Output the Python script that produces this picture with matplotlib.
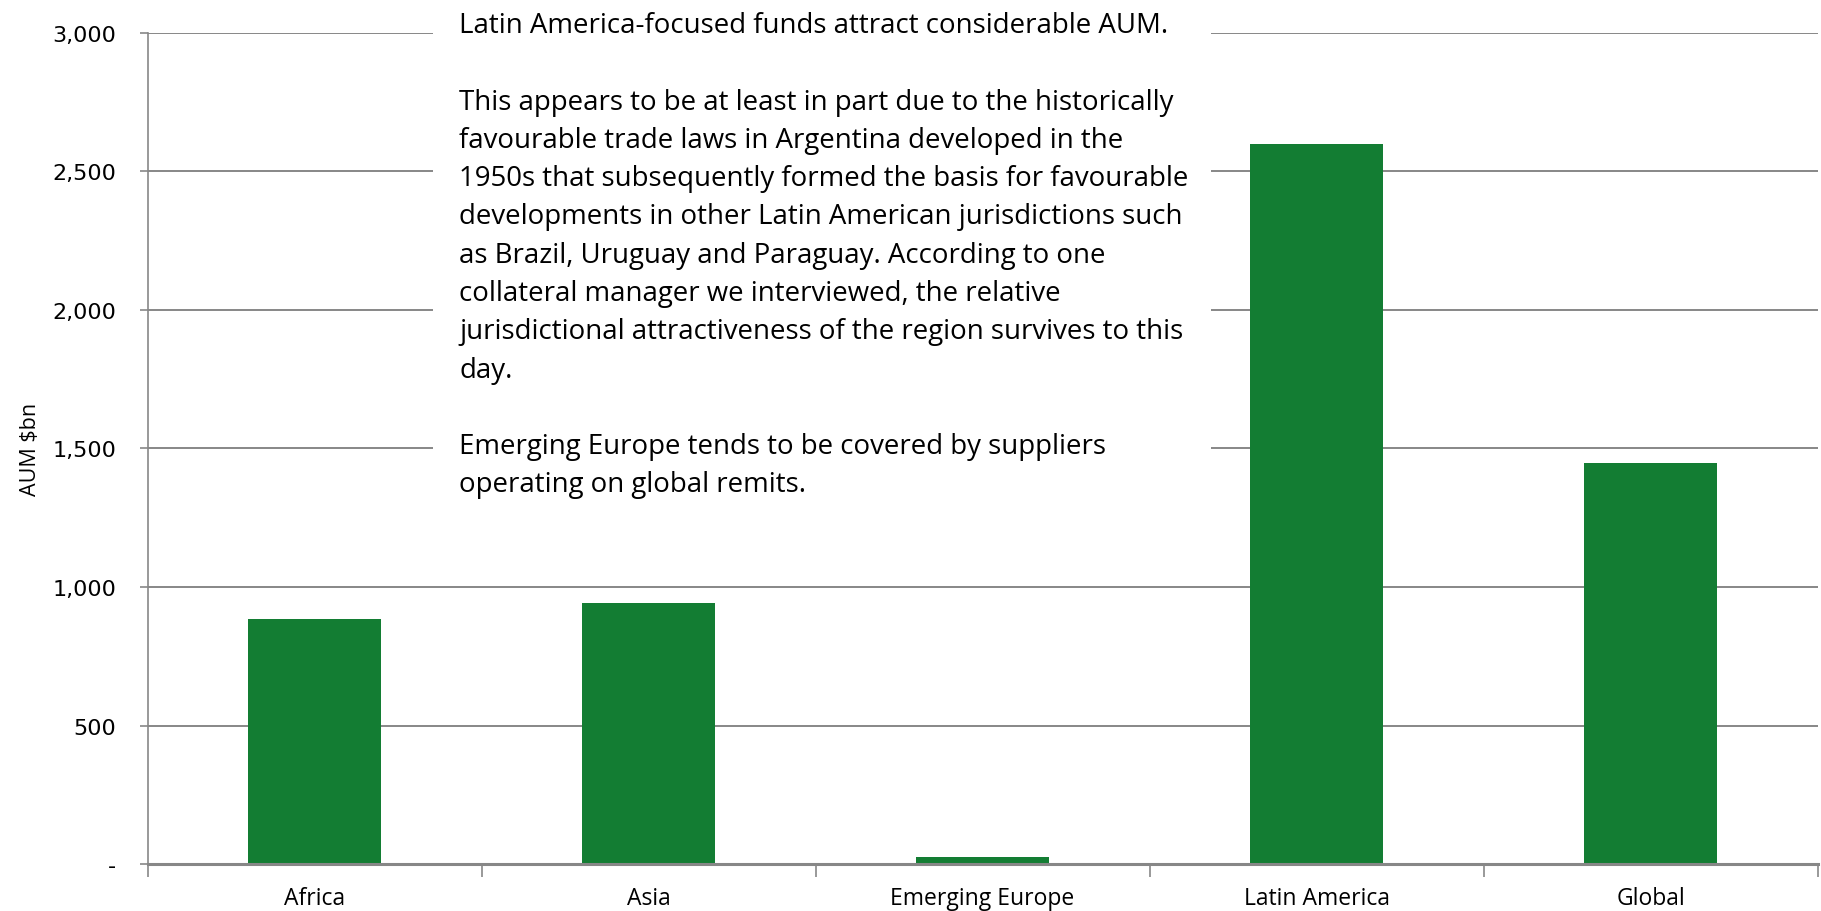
import matplotlib
matplotlib.use("Agg")
import matplotlib.pyplot as plt
from matplotlib.patches import Rectangle

categories = ["Africa", "Asia", "Emerging Europe", "Latin America", "Global"]
aum_bn = [884, 943, 25, 2598, 1446]
y_ticks = [0, 500, 1000, 1500, 2000, 2500, 3000]
y_tick_labels = ["-", "500", "1,000", "1,500", "2,000", "2,500", "3,000"]

note = ("Latin America-focused funds attract considerable AUM.\n"
        "\n"
        "This appears to be at least in part due to the historically\n"
        "favourable trade laws in Argentina developed in the\n"
        "1950s that subsequently formed the basis for favourable\n"
        "developments in other Latin American jurisdictions such\n"
        "as Brazil, Uruguay and Paraguay. According to one\n"
        "collateral manager we interviewed, the relative\n"
        "jurisdictional attractiveness of the region survives to this\n"
        "day.\n"
        "\n"
        "Emerging Europe tends to be covered by suppliers\n"
        "operating on global remits.")

W, H = 1821, 912
fig = plt.figure(figsize=(W / 100, H / 100), dpi=100)
ax = fig.add_axes([147.5 / W, 1 - 865.2 / H, (1817.6 - 147.5) / W, (865.2 - 33.7) / H])

green = "#137D33"
grid_c = "#878787"
body_font = "Open Sans"

x = list(range(len(categories)))
ax.bar(x, aum_bn, width=0.4, color=green, zorder=2)

ax.set_xlim(-0.5, len(categories) - 0.5)
ax.set_ylim(0, 3000)
ax.set_yticks(y_ticks)
ax.set_yticklabels(y_tick_labels, fontsize=16, family="DejaVu Sans")
ax.yaxis.grid(True, color=grid_c, linewidth=1.4)
ax.set_axisbelow(True)
ax.tick_params(axis="y", length=6, width=1.2, color=grid_c, pad=16.5)

ax.set_xticks([i - 0.5 for i in range(len(categories) + 1)], minor=False)
ax.set_xticklabels([])
ax.set_xticks(x, minor=True)
ax.set_xticklabels(categories, minor=True, fontsize=16.5, family=body_font)
ax.tick_params(axis="x", which="major", length=9, width=1.2, color=grid_c)
ax.tick_params(axis="x", which="minor", length=0, pad=15.5)

for s in ["top", "right"]:
    ax.spines[s].set_visible(False)
ax.spines["left"].set_color(grid_c)
ax.spines["left"].set_linewidth(1.2)
ax.spines["bottom"].set_color(grid_c)
ax.spines["bottom"].set_linewidth(2.2)

ax.set_ylabel("AUM $bn", fontsize=15.5, family=body_font)
ax.yaxis.set_label_coords(31 / W, 1 - 449 / H, transform=fig.transFigure)
ax.yaxis.label.set_va("center")

# white note box covering gridlines
fig.patches.append(Rectangle((433 / W, 1 - 500 / H), (1211 - 433) / W, 500 / H,
                             transform=fig.transFigure, facecolor="white",
                             edgecolor="none", zorder=3))
fig.text(459 / W, 1 - 12 / H, note, ha="left", va="top", fontsize=19.9,
         family=body_font, linespacing=1.49, color="black", zorder=4)

fig.savefig("out.png", dpi=100, facecolor="white")
